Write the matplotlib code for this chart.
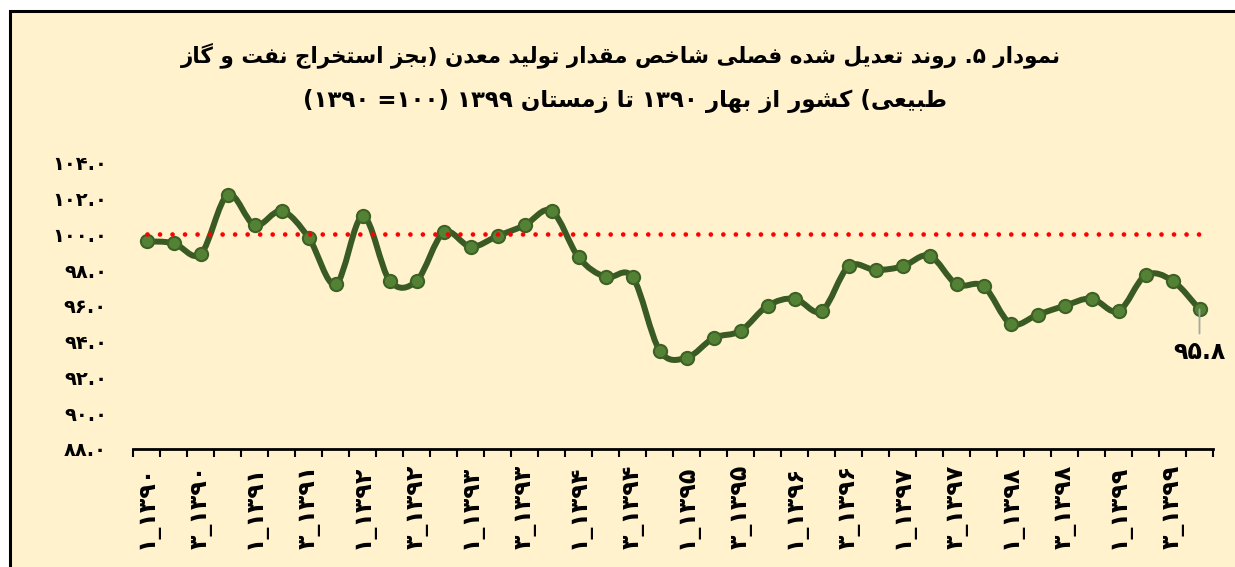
import matplotlib
matplotlib.use("Agg")
import matplotlib.pyplot as plt
from matplotlib.path import Path
from matplotlib.patches import PathPatch, Rectangle
import numpy as np

# ---------------- data ----------------
title_line1 = "نمودار ۵. روند تعدیل شده فصلی شاخص مقدار تولید معدن (بجز استخراج نفت و گاز"
title_line2 = "طبیعی) کشور از بهار ۱۳۹۰ تا زمستان ۱۳۹۹ (۱۰۰= ۱۳۹۰)"

years = ["۱۳۹۰", "۱۳۹۱", "۱۳۹۲", "۱۳۹۳", "۱۳۹۴", "۱۳۹۵", "۱۳۹۶", "۱۳۹۷", "۱۳۹۸", "۱۳۹۹"]
quarters = ["۱", "۲", "۳", "۴"]
categories = [q + "_" + y for y in years for q in quarters]

index_values = [99.6, 99.5, 98.9, 102.2, 100.5, 101.3, 99.8, 97.2, 101.0, 97.4,
                97.4, 100.1, 99.3, 99.9, 100.5, 101.3, 98.7, 97.6, 97.6, 93.5,
                93.1, 94.2, 94.6, 96.0, 96.4, 95.7, 98.2, 98.0, 98.2, 98.8,
                97.2, 97.1, 95.0, 95.5, 96.0, 96.4, 95.7, 97.7, 97.4, 95.8]
base_values = [100.0] * 40
last_label = "۹۵.۸"

y_ticks = [88, 90, 92, 94, 96, 98, 100, 102, 104]
y_tick_labels = ["۸۸.۰", "۹۰.۰", "۹۲.۰", "۹۴.۰", "۹۶.۰", "۹۸.۰", "۱۰۰.۰", "۱۰۲.۰", "۱۰۴.۰"]

# ------------- minimal Persian shaping + right-to-left ordering -------------
FORMS = {
    'ا': ('\uFE8D', '\uFE8E', None, None),
    'ب': ('\uFE8F', '\uFE90', '\uFE91', '\uFE92'),
    'ت': ('\uFE95', '\uFE96', '\uFE97', '\uFE98'),
    'ج': ('\uFE9D', '\uFE9E', '\uFE9F', '\uFEA0'),
    'خ': ('\uFEA5', '\uFEA6', '\uFEA7', '\uFEA8'),
    'د': ('\uFEA9', '\uFEAA', None, None),
    'ر': ('\uFEAD', '\uFEAE', None, None),
    'ز': ('\uFEAF', '\uFEB0', None, None),
    'س': ('\uFEB1', '\uFEB2', '\uFEB3', '\uFEB4'),
    'ش': ('\uFEB5', '\uFEB6', '\uFEB7', '\uFEB8'),
    'ص': ('\uFEB9', '\uFEBA', '\uFEBB', '\uFEBC'),
    'ط': ('\uFEC1', '\uFEC2', '\uFEC3', '\uFEC4'),
    'ع': ('\uFEC9', '\uFECA', '\uFECB', '\uFECC'),
    'ف': ('\uFED1', '\uFED2', '\uFED3', '\uFED4'),
    'ق': ('\uFED5', '\uFED6', '\uFED7', '\uFED8'),
    'ل': ('\uFEDD', '\uFEDE', '\uFEDF', '\uFEE0'),
    'م': ('\uFEE1', '\uFEE2', '\uFEE3', '\uFEE4'),
    'ن': ('\uFEE5', '\uFEE6', '\uFEE7', '\uFEE8'),
    'ه': ('\uFEE9', '\uFEEA', '\uFEEB', '\uFEEC'),
    'و': ('\uFEED', '\uFEEE', None, None),
    'ی': ('\uFBFC', '\uFBFD', '\uFBFE', '\uFBFF'),
    'ک': ('\uFB8E', '\uFB8F', '\uFB90', '\uFB91'),
    'گ': ('\uFB92', '\uFB93', '\uFB94', '\uFB95'),
}
DIGITS = set("۰۱۲۳۴۵۶۷۸۹0123456789")
MIRROR = {'(': ')', ')': '('}


def rtl_visual(text):
    chars = list(text)
    n = len(chars)
    shaped = []
    for i, ch in enumerate(chars):
        if ch in FORMS:
            iso, fin, ini, med = FORMS[ch]
            prev_joins = i > 0 and chars[i - 1] in FORMS and FORMS[chars[i - 1]][2] is not None
            next_joins = ini is not None and i < n - 1 and chars[i + 1] in FORMS
            if prev_joins and next_joins:
                shaped.append(med)
            elif prev_joins:
                shaped.append(fin)
            elif next_joins:
                shaped.append(ini)
            else:
                shaped.append(iso)
        else:
            shaped.append(MIRROR.get(ch, ch))
    tokens = []
    i = 0
    while i < n:
        if chars[i] in DIGITS:
            j = i
            while j < n and chars[j] in DIGITS:
                j += 1
            tokens.append("".join(shaped[i:j]))
            i = j
        else:
            tokens.append(shaped[i])
            i += 1
    return "".join(reversed(tokens))


# ---------------- figure ----------------
BG = "#FFF2CC"
LINE = "#3A5A24"
MARK = "#548235"
MARK_EDGE = "#3D6126"

plt.rcParams['font.family'] = ['DejaVu Sans']
fig = plt.figure(figsize=(12.35, 5.67), dpi=100)
fig.patch.set_facecolor("white")

# chart area frame (only top and left edges inside the picture)
frame = Rectangle((10 / 1235, -0.2), 1.3, 1.2 - 11 / 567,
                  transform=fig.transFigure, facecolor=BG, edgecolor="black",
                  linewidth=2.2, zorder=-10)
fig.patches.append(frame)

fig.text(0.503, 1 - 55 / 567, rtl_visual(title_line1), ha="center", va="center",
         fontsize=15.5, fontweight="bold", color="black")
fig.text(0.506, 1 - 101 / 567, rtl_visual(title_line2), ha="center", va="center",
         fontsize=16.5, fontweight="bold", color="black")

ax = fig.add_axes([133.3 / 1235, 118 / 567, (1213 - 133.3) / 1235, (449 - 162.6) / 567])
ax.set_facecolor("none")

x = np.arange(len(index_values))
y = np.array(index_values, dtype=float)

# smoothed line (Bezier through the data points)
verts = [(x[0], y[0])]
codes = [Path.MOVETO]
for i in range(len(x) - 1):
    p0 = np.array([x[max(i - 1, 0)], y[max(i - 1, 0)]])
    p1 = np.array([x[i], y[i]])
    p2 = np.array([x[i + 1], y[i + 1]])
    p3 = np.array([x[min(i + 2, len(x) - 1)], y[min(i + 2, len(x) - 1)]])
    c1 = p1 + (p2 - p0) / 6.0
    c2 = p2 - (p3 - p1) / 6.0
    verts += [tuple(c1), tuple(c2), tuple(p2)]
    codes += [Path.CURVE4, Path.CURVE4, Path.CURVE4]
ax.add_patch(PathPatch(Path(verts, codes), facecolor="none", edgecolor=LINE,
                       linewidth=4.3, capstyle="round", joinstyle="round", zorder=3))
ax.plot(x, y, linestyle="none", marker="o", markersize=9.5,
        markerfacecolor=MARK, markeredgecolor=MARK_EDGE, markeredgewidth=1.5, zorder=4)

ax.plot(x, base_values, color="#FF0000", linewidth=3.4,
        linestyle=(0, (0.001, 2.65)), dash_capstyle="round", zorder=5)

ax.annotate(last_label, xy=(x[-1], y[-1]), xytext=(0, -31), textcoords="offset points",
            ha="center", va="center", fontsize=17, fontweight="bold",
            arrowprops=dict(arrowstyle="-", color="#A6A6A6", lw=1.3,
                            shrinkA=3, shrinkB=0), zorder=6)

ax.set_xlim(-0.5, len(x) - 0.5)
ax.set_ylim(88, 104)

for s in ["top", "right", "left"]:
    ax.spines[s].set_visible(False)
ax.spines["bottom"].set_linewidth(2.0)
ax.spines["bottom"].set_color("black")

ax.set_yticks(y_ticks)
ax.set_yticklabels(y_tick_labels, fontsize=14, fontweight="bold")
ax.tick_params(axis="y", length=0, pad=19)

ax.set_xticks(np.arange(-0.5, len(x), 1.0))
ax.set_xticklabels([])
ax.tick_params(axis="x", which="major", length=6, width=1.5, direction="out", color="black")
ax.set_xticks(x[::2], minor=True)
ax.set_xticklabels(categories[::2], minor=True, rotation=90, fontsize=17, fontweight="bold")
ax.tick_params(axis="x", which="minor", length=0, pad=11)

fig.savefig("out.png", dpi=100, facecolor=fig.get_facecolor())
